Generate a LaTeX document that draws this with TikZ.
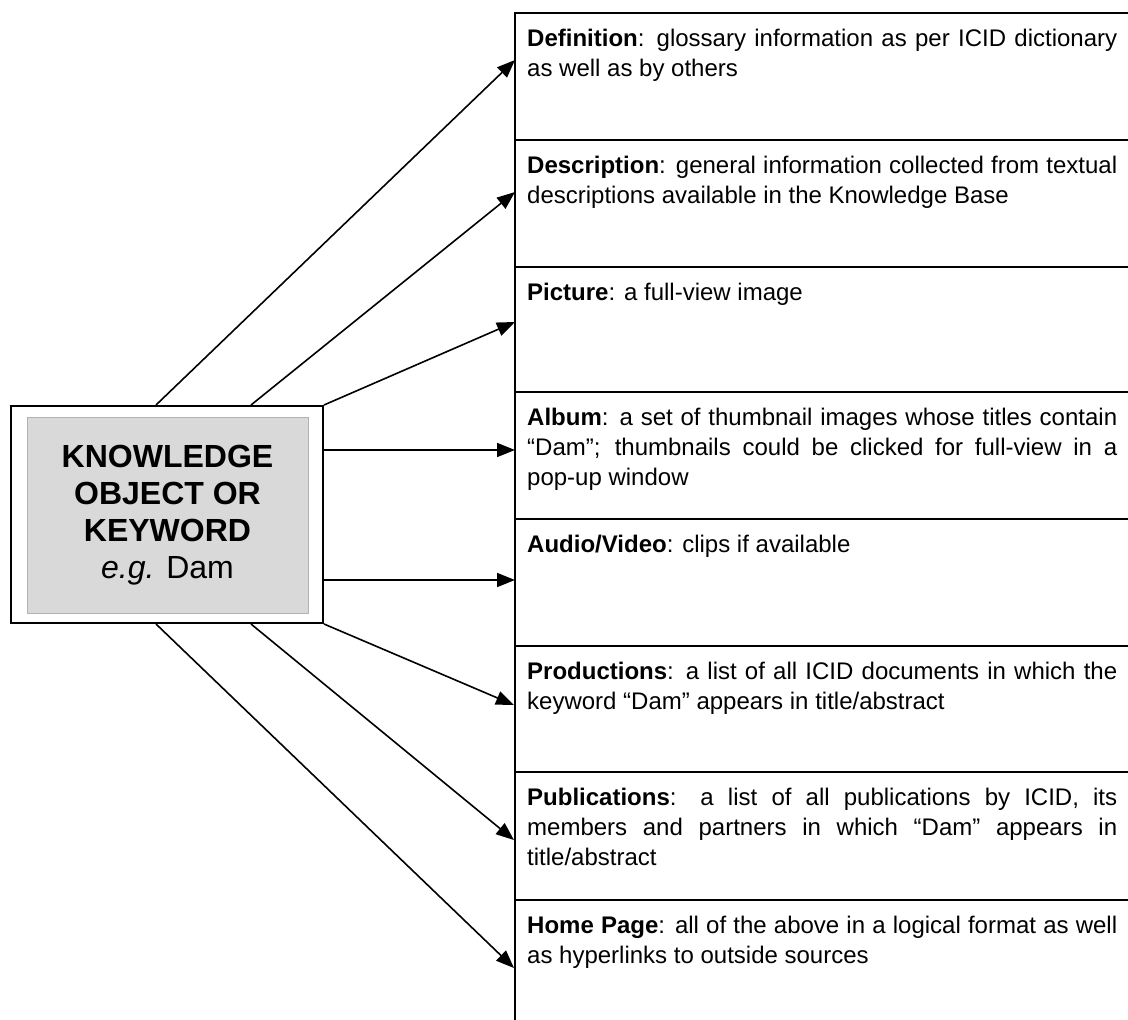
\documentclass[tikz,border=0pt]{standalone}
\usepackage{fontspec}
\setmainfont{Liberation Sans}
\usetikzlibrary{arrows.meta}
\tikzstyle{cell} = [anchor=north west, inner sep=0pt, text width=590pt, align=justify, font=\fontsize{24}{30}\selectfont]
\tikzstyle{arr} = [line width=1.6pt, -{Triangle[length=18pt,width=14pt]}]

\begin{document}
\begin{tikzpicture}[x=1pt,y=-1pt]
\tikzset{rule/.style={line width=2pt}}
\useasboundingbox (0,0) rectangle (1128,1020);

% table on the right
\foreach \y in {13,140,267,392,519,646,772,900}
  \draw[rule] (515,\y) -- (1128,\y);
\draw[rule] (515,12) -- (515,1020);

\node[cell] (def) at (527,29) {\textbf{Definition}: glossary information as per ICID dictionary\linebreak as well as by others};
\node[cell] (desc) at (527,156) {\textbf{Description}: general information collected from textual\linebreak descriptions available in the Knowledge Base};
\node[cell] (pict) at (527,283) {\textbf{Picture}: a full-view image};
\node[cell] (album) at (527,408) {\textbf{Album}: a set of thumbnail images whose titles contain\linebreak “Dam”; thumbnails could be clicked for full-view in a\linebreak pop-up window};
\node[cell] (av) at (527,535) {\textbf{Audio/Video}: clips if available};
\node[cell] (prod) at (527,662) {\textbf{Productions}: a list of all ICID documents in which the\linebreak keyword “Dam” appears in title/abstract};
\node[cell] (publ) at (527,788) {\textbf{Publications}: a list of all publications by ICID, its\linebreak members and partners in which “Dam” appears in\linebreak title/abstract};
\node[cell] (home) at (527,916) {\textbf{Home Page}: all of the above in a logical format as well\linebreak as hyperlinks to outside sources};

% keyword box
\node[draw=black!30, fill=black!15, minimum width=281pt, minimum height=196pt, align=center, font=\fontsize{32}{37}\selectfont] (kobj) at (167.5,515) {\textbf{KNOWLEDGE}\\\textbf{OBJECT OR}\\\textbf{KEYWORD}\\\textit{e.g.} Dam};
\node[draw, line width=2pt, minimum width=312pt, minimum height=217pt, inner sep=0pt] (kframe) at (167,514.5) {};

% arrow ends
\coordinate (a1) at (515,60);
\coordinate (a2) at (515,192);
\coordinate (a3) at (515,322);
\coordinate (a4) at (515,450);
\coordinate (a5) at (515,580);
\coordinate (a6) at (514,705);
\coordinate (a7) at (514,840);
\coordinate (a8) at (514,968);
\path (kframe.north west) ++(146,0) coordinate (o1);
\path (kframe.north west) ++(241,0) coordinate (o2);
\coordinate (o3) at (kframe.north east);
\coordinate (o4) at (kframe.east |- a4);
\coordinate (o5) at (kframe.east |- a5);
\coordinate (o6) at (kframe.south east);
\path (kframe.south west) ++(241,0) coordinate (o7);
\path (kframe.south west) ++(146,0) coordinate (o8);

\foreach \from/\to in {o1/a1,o2/a2,o3/a3,o4/a4,o5/a5,o6/a6,o7/a7,o8/a8}
{
	\draw[arr] (\from) -- (\to);
}

\end{tikzpicture}
\end{document}
